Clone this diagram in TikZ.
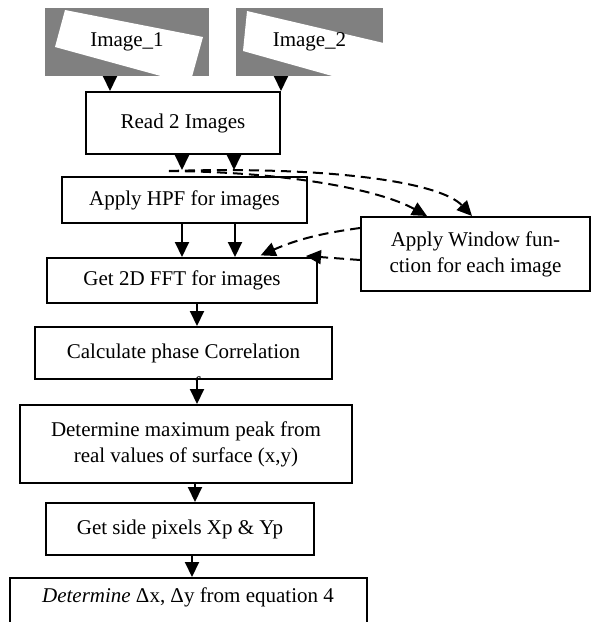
\documentclass[tikz,border=0pt]{standalone}
\usepackage{fontspec}
\setmainfont{Liberation Serif}
\usepackage{tikz}
\usetikzlibrary{arrows.meta}

\tikzset{
  box/.style={draw, line width=2pt, inner sep=0pt, align=center},
  arr/.style={line width=2pt, -{Triangle[width=14pt,length=15pt]}},
  dasharr/.style={arr, dash pattern=on 10pt off 6pt},
  pic/.style={minimum width=#1, minimum height=68pt, inner sep=0pt},
}

\begin{document}
\begin{tikzpicture}[x=1pt, y=-1pt, font=\fontsize{21}{26}\selectfont]
  \useasboundingbox (0,0) rectangle (592,622);
  \clip (0,0) rectangle (592,622);

  % the two input pictures, a tilted sheet on grey
  \fill[gray] (45,8) rectangle (209,76);
  \fill[gray] (236,8) rectangle (383,76);
  \begin{scope}
    \clip (45,8) rectangle (209,76);
    \fill[white] (65,10) -- (203,37) -- (190,84) -- (55,47) -- cycle;
  \end{scope}
  \begin{scope}
    \clip (236,8) rectangle (383,76);
    \fill[white] (247,11) -- (405,48) -- (400,95) -- (243,51) -- cycle;
  \end{scope}
  \node[pic=164pt] (img1) at (127,42) {Image\_1};
  \node[pic=147pt] (img2) at (309.5,42) {Image\_2};

  % main chain
  \node[box, minimum width=194pt, minimum height=62pt] (read) at (183,123) {Read 2 Images};
  \node[box, minimum width=245pt, minimum height=46pt] (hpf) at (184.5,200) {Apply HPF for images};
  \node[box, minimum width=270pt, minimum height=45pt] (fft) at (182,280.5) {Get 2D FFT for images};
  \node[box, minimum width=297pt, minimum height=52pt] (calc) at (183.5,353) {Calculate phase Correlation};
  \node[box, minimum width=332pt, minimum height=78pt] (det) at (186,444) {Determine maximum peak from\\real values of surface (x,y)};
  \node[box, minimum width=268pt, minimum height=52pt] (side) at (180,529) {Get side pixels Xp \& Yp};
  \node[box, minimum width=357pt, minimum height=80pt, anchor=north,
        label={[anchor=north, yshift=-7pt]north:{\itshape Determine} Δx, Δy from equation 4}] (final) at (188,577) {};

  % side step
  \node[box, minimum width=229pt, minimum height=74pt] (win) at (475.5,254) {Apply Window fun-\\ction for each image};

  % second line of the calc box, cut off by its frame
  \begin{scope}
    \clip (calc.south west) rectangle (calc.north east);
    \node[anchor=base, inner sep=0pt] at (197,391) {f};
  \end{scope}

  \draw[arr] ([xshift=-17pt]img1.south) -- ([xshift=-17pt]img1.south |- read.north);
  \draw[arr] (img2.south -| read.north east) -- (read.north east);

  \draw[arr, shorten >=6pt] ([xshift=-1pt]read.south) -- ([xshift=-1pt]read.south |- hpf.north);
  \draw[arr, shorten >=6pt] ([xshift=51pt]read.south) -- ([xshift=51pt]read.south |- hpf.north);
  \draw[arr] ([xshift=-2.5pt]hpf.south) -- ([xshift=-2.5pt]hpf.south |- fft.north);
  \draw[arr] ([xshift=50.5pt]hpf.south) -- ([xshift=50.5pt]hpf.south |- fft.north);
  \draw[arr] ([xshift=15pt]fft.south) -- ([xshift=15pt]fft.south |- calc.north);
  \draw[arr] ([xshift=13.5pt]calc.south) -- ([xshift=13.5pt]calc.south |- det.north);
  \draw[arr] ([xshift=9pt]det.south) -- ([xshift=9pt]det.south |- side.north);
  \draw[arr] ([xshift=12pt]side.south) -- ([xshift=12pt]side.south |- final.north);

  % dashed loop through the window step
  \coordinate (split) at (169,171);
  \draw[dasharr] (split) .. controls (330,166) and (440,182) .. ([xshift=-3.5pt]win.north);
  \draw[dasharr] (split) .. controls (290,172) and (380,190) .. ([xshift=-48.5pt]win.north);
  \draw[dasharr, shorten >=4pt] ([yshift=26pt]win.west) to[bend right=8] ([xshift=75pt]fft.north);
  \draw[dasharr] ([yshift=-6pt]win.west) -- ([xshift=-12pt,yshift=1pt]fft.north east);
\end{tikzpicture}
\end{document}
